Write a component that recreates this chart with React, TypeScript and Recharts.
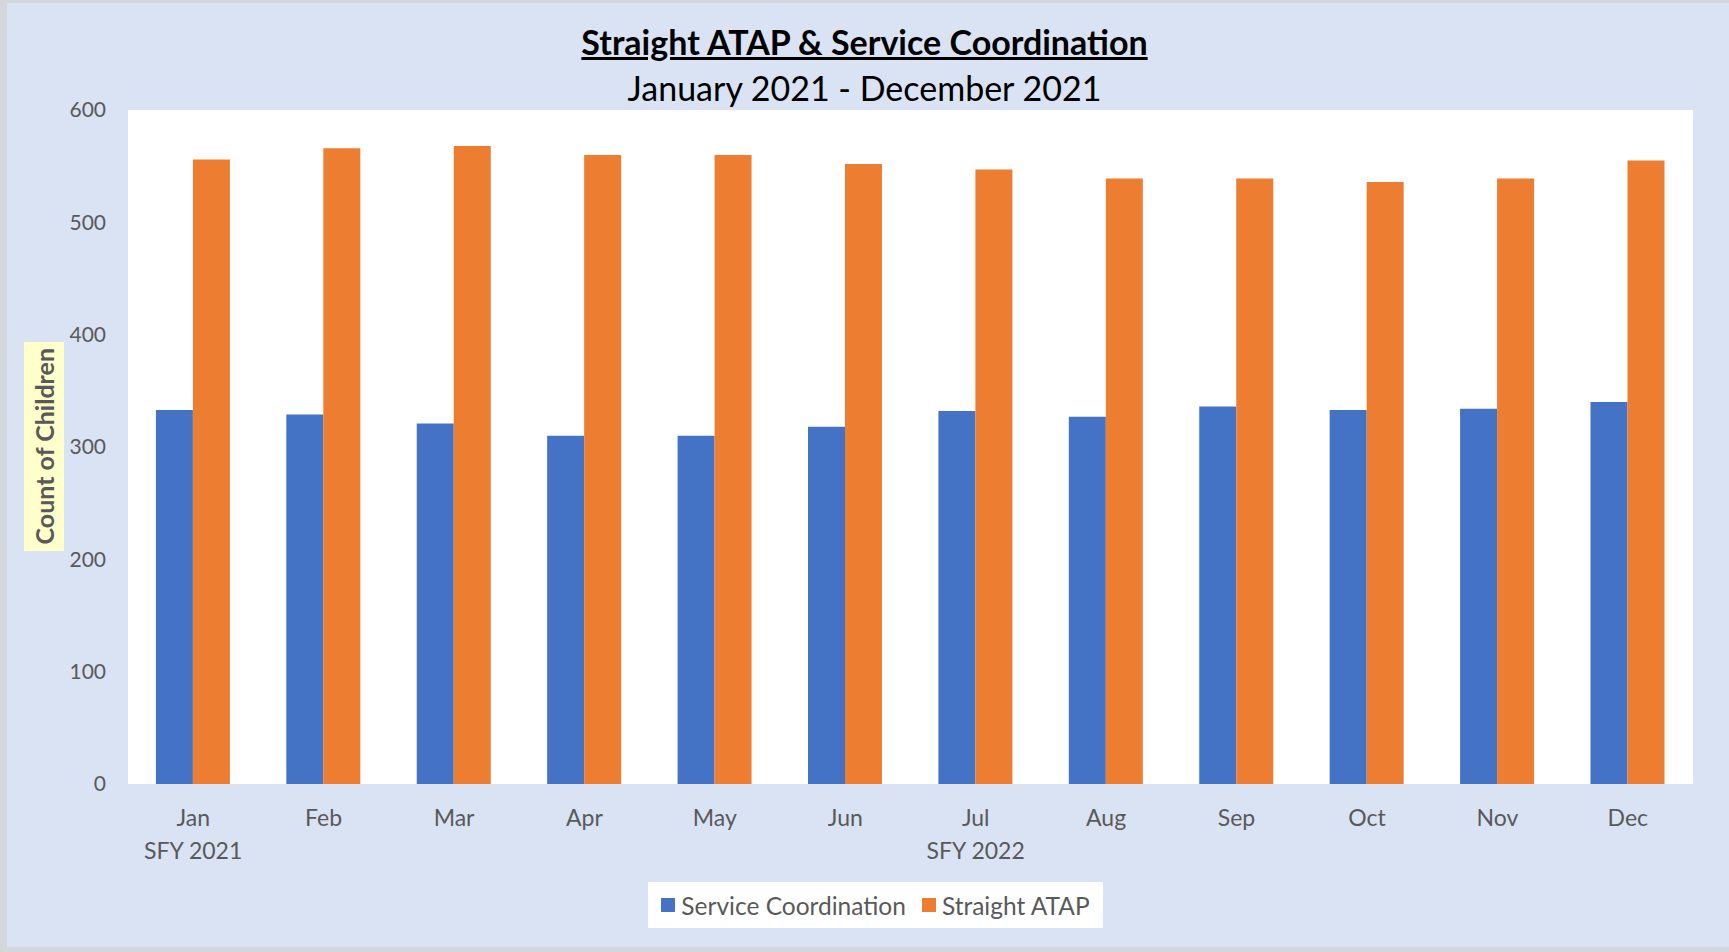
import { Bar, BarChart, CartesianGrid, XAxis, YAxis } from "recharts";

const months = ["Jan", "Feb", "Mar", "Apr", "May", "Jun", "Jul", "Aug", "Sep", "Oct", "Nov", "Dec"];
const fiscalYears = ["SFY 2021", "", "", "", "", "", "SFY 2022", "", "", "", "", ""];
const serviceCoordination = [333, 329, 321, 310, 310, 318, 332, 327, 336, 333, 334, 340];
const straightAtap = [556, 566, 568, 560, 560, 552, 547, 539, 539, 536, 539, 555];
const yTicks = [0, 100, 200, 300, 400, 500, 600];

const seriesInfo = [
  { key: "sc", name: "Service Coordination", color: "#4472C4" },
  { key: "atap", name: "Straight ATAP", color: "#ED7D31" },
];

const data = months.map((month, i) => ({
  month,
  sc: serviceCoordination[i],
  atap: straightAtap[i],
}));

const FONT = "Lato, 'Noto Sans', sans-serif";
const GREY = "#595959";

function MonthTick(props: any) {
  const { x, y, payload, index } = props;
  const fy = fiscalYears[index];
  return (
    <text x={x} y={y} textAnchor="middle" fill={GREY} fontSize={23} fontFamily={FONT}>
      <tspan x={x} dy={34}>
        {payload.value}
      </tspan>
      {fy ? (
        <tspan x={x} dy={33}>
          {fy}
        </tspan>
      ) : null}
    </text>
  );
}

export default function App() {
  return (
    <div
      style={{
        position: "fixed",
        top: 0,
        left: 0,
        width: 1729,
        height: 952,
        background: "#d3d6db",
        overflow: "hidden",
        fontFamily: FONT,
      }}
    >
      <div
        style={{
          position: "absolute",
          left: 7,
          top: 3,
          width: 1722,
          height: 944,
          background: "#DAE3F3",
        }}
      />

      <div style={{ position: "absolute", left: 0, top: 0 }}>
        <BarChart
          width={1729}
          height={952}
          data={data}
          margin={{ top: 110, right: 36, left: 0, bottom: 88 }}
          barCategoryGap="21.4%"
          barGap={0}
        >
          <CartesianGrid horizontal={false} vertical={false} fill="#ffffff" stroke="none" />
          <XAxis
            dataKey="month"
            axisLine={false}
            tickLine={false}
            height={80}
            interval={0}
            tick={<MonthTick />}
          />
          <YAxis
            domain={[0, 600]}
            ticks={yTicks}
            width={128}
            axisLine={false}
            tickLine={false}
            tickMargin={16}
            tick={{ fill: GREY, fontSize: 21, fontFamily: FONT }}
          />
          {seriesInfo.map((s) => (
            <Bar
              key={s.key}
              dataKey={s.key}
              name={s.name}
              fill={s.color}
              isAnimationActive={false}
            />
          ))}
        </BarChart>
      </div>

      <div
        style={{
          position: "absolute",
          left: 0,
          width: 1729,
          top: 20,
          textAlign: "center",
          fontSize: 34,
          fontWeight: 700,
          color: "#000",
          textDecoration: "underline",
          lineHeight: "44px",
        }}
      >
        Straight ATAP &amp; Service Coordination
      </div>
      <div
        style={{
          position: "absolute",
          left: 0,
          width: 1729,
          top: 66,
          textAlign: "center",
          fontSize: 34,
          color: "#000",
          lineHeight: "44px",
        }}
      >
        January 2021 - December 2021
      </div>

      <div
        style={{
          position: "absolute",
          left: 24,
          top: 342,
          width: 40,
          height: 209,
          background: "#FFFFCC",
          display: "flex",
          alignItems: "center",
          justifyContent: "center",
        }}
      >
        <div
          style={{
            writingMode: "vertical-rl",
            transform: "rotate(180deg)",
            fontSize: 25,
            fontWeight: 700,
            color: GREY,
            whiteSpace: "nowrap",
          }}
        >
          Count of Children
        </div>
      </div>

      <div
        style={{
          position: "absolute",
          left: 648,
          top: 882,
          width: 455,
          height: 46,
          background: "#ffffff",
          display: "flex",
          alignItems: "center",
          justifyContent: "center",
          gap: 16,
          fontSize: 24.5,
          color: GREY,
        }}
      >
        {seriesInfo.map((s) => (
          <div key={s.key} style={{ display: "flex", alignItems: "center" }}>
            <span
              style={{
                display: "inline-block",
                width: 14,
                height: 14,
                background: s.color,
                marginRight: 6,
              }}
            />
            {s.name}
          </div>
        ))}
      </div>
    </div>
  );
}
